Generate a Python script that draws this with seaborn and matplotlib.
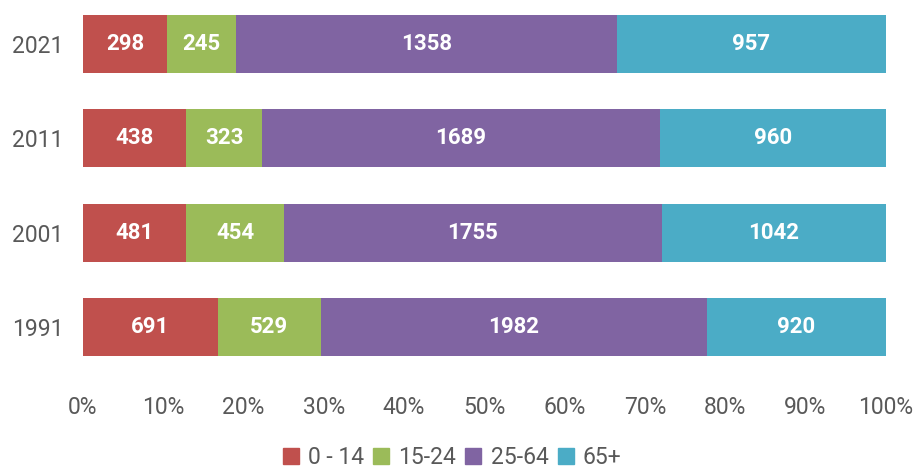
import pandas as pd
import numpy as np
import matplotlib.pyplot as plt
import seaborn as sns
from matplotlib.patches import Patch

# data
years = ['2021', '2011', '2001', '1991']
groups = ['0 - 14', '15-24', '25-64', '65+']
age_0_14 = [298, 438, 481, 691]
age_15_24 = [245, 323, 454, 529]
age_25_64 = [1358, 1689, 1755, 1982]
age_65 = [957, 960, 1042, 920]
colors = ['#C0504D', '#9BBB59', '#8064A2', '#4BACC6']

sns.set_style('white')
plt.rcParams['font.family'] = ['Roboto', 'DejaVu Sans']

counts = pd.DataFrame({'year': years, groups[0]: age_0_14, groups[1]: age_15_24,
                       groups[2]: age_25_64, groups[3]: age_65}).set_index('year')
share = counts.div(counts.sum(axis=1), axis=0) * 100
cum = share.cumsum(axis=1)

fig = plt.figure(figsize=(9.17, 4.69), dpi=100)
ax = fig.add_axes([0.0905, 0.241, 0.8755, 0.727])

# stacked bars: draw cumulative totals from the widest to the narrowest
for g, c in reversed(list(zip(groups, colors))):
    sns.barplot(x=cum[g].values, y=years, order=years, orient='h', color=c,
                width=0.615, saturation=1, ax=ax, linewidth=0)

# value labels in the middle of each segment
for i, yr in enumerate(years):
    for g in groups:
        mid = cum.loc[yr, g] - share.loc[yr, g] / 2
        ax.text(mid, i, str(counts.loc[yr, g]), ha='center', va='center',
                color='white', fontsize=16, fontweight='bold')

ax.set_xlim(0, 100)
ax.set_ylim(3.3075, -0.3075)
ax.set_xticks(np.arange(0, 101, 10))
ax.set_xticklabels([f'{v}%' for v in range(0, 101, 10)])
ax.tick_params(axis='both', length=0, labelsize=16.5, colors='#595959')
ax.tick_params(axis='x', pad=29)
ax.tick_params(axis='y', pad=14)
ax.set_xlabel('')
ax.set_ylabel('')
sns.despine(ax=ax, left=True, bottom=True)

handles = [Patch(color=c, label=g) for g, c in zip(groups, colors)]
fig.legend(handles=handles, loc='lower center', bbox_to_anchor=(0.493, -0.043), ncol=4,
           frameon=False, fontsize=16.5, handlelength=0.7, handleheight=0.7,
           handletextpad=0.4, columnspacing=0.4, labelcolor='#595959')

fig.savefig('out.png', dpi=100)
